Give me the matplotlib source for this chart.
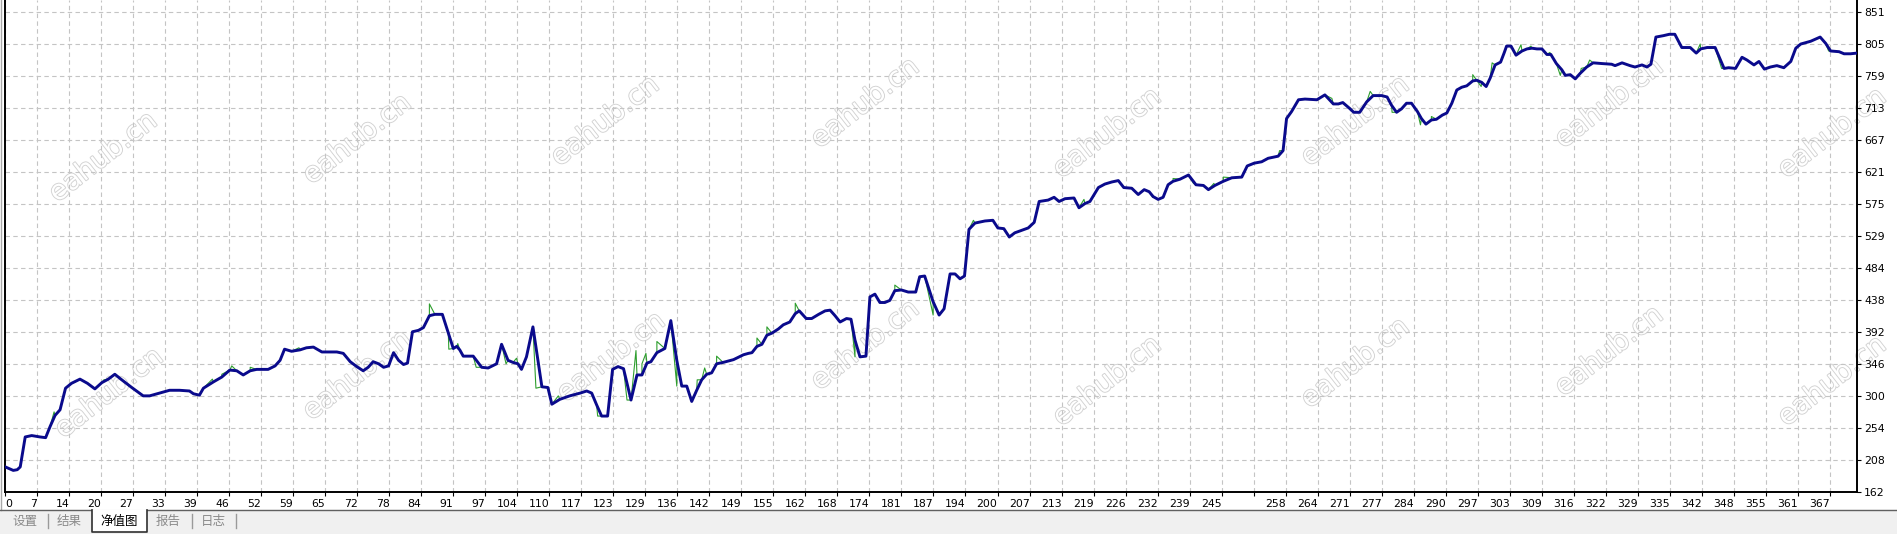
import numpy as np
import matplotlib
matplotlib.use("Agg")
import matplotlib.pyplot as plt
import matplotlib.patheffects as pe
from matplotlib.patches import Rectangle
from matplotlib.lines import Line2D

# balance curve (trade number -> balance)
bal_x = [0, 1.6, 2.4, 3, 4, 5.3, 7, 8.1, 9, 10, 11, 12.1, 13.3, 15, 16.5, 18, 19.4, 20.7, 22, 23.4,
         25.4, 27.7, 29, 31, 33, 35, 37, 37.8, 39, 39.8, 41.8, 43.5, 45.1,
         46.5, 47.8, 49.2, 50.5, 52.8, 54.2, 55.2, 56.1, 57.5, 59.2, 60.5, 61.9, 63.6, 66.6, 67.9,
         69.3, 70.6, 71.9, 72.9, 73.9, 75, 76, 77, 78, 79, 80, 80.8, 81.8, 83, 84, 85.2, 86.3, 87.8,
         89, 90, 90.7, 91.3, 92,
         94, 95.7, 97, 98.7, 99.7, 101, 102, 103, 103.7, 104.7, 106, 107.8, 109, 109.8, 111.4, 113.4,
         115.5, 116.8, 117.8, 118.8, 119.8, 121, 122, 123.1, 124.2, 125.7, 126.9, 127.9, 128.9, 129.7,
         130.9, 132.5, 133.7, 134.9, 135.9, 136.9, 137.9,
         138.9, 139.9, 140.9, 141.9, 142.9, 144.2, 146.3, 148.3, 149.3, 150, 151, 152, 153, 154, 155.3,
         156.3, 157.6, 158.7, 159.5, 160.9, 162, 163.4, 164.7, 165.7, 166.7, 167.7, 169, 169.9, 170.7,
         171.7, 172.9, 173.7, 174.7, 175.7, 176.7, 177.7, 178.7, 180, 181.4, 182.9, 183.7, 184.7,
         186.4, 187.6, 188.6, 189.8, 190.8, 191.8, 192.7, 193.6, 194.8, 196.8, 198.4, 199.4, 200.6,
         201.7, 202.8, 205.5, 206.7, 207.7, 209.5, 210.7, 211.7, 212.9, 214.7, 215.7, 216.9, 217.9,
         219.6, 220.9, 222.3, 223.6, 224.7, 226.3, 227.6, 228.8, 229.8, 230.6,
         231.6, 232.6, 233.6, 234.6, 236, 237.7, 239.2, 240.7, 241.7, 243, 244.7, 246.4, 248.4, 249.5,
         250.9, 252.4, 253.7, 255.7, 256.7, 257.4, 258.4, 259.8, 261.1, 263.5, 265.1, 266.8, 267.8,
         268.7, 270, 270.9, 272.1, 273.5, 274.8, 276.5, 277.6,
         278.5, 279.5, 280.5, 281.5, 282.5, 283.7, 284.5, 285.4, 286.5, 287.5, 288.7, 289.6, 290.6,
         291.6, 292.6, 293.6, 294.8, 295.6, 296.6, 297.5, 298.3, 299.3, 300.4, 301.1, 301.6, 302.5,
         303.5, 304.7, 305.7, 306.7, 307.7, 308.7, 309.7, 310.5, 311.6, 312.7, 313.4, 314.4, 315.4,
         316.4, 317.7, 319, 320.7, 322.7,
         323.4, 324.8, 326.4, 327.4, 328.8, 329.8, 330.6, 331.6, 333.1, 334.3, 335.4, 336.8, 338.5,
         339.7, 340.6, 341.9, 343.5, 345.3, 346.2, 347.6, 348.9, 349.9, 351.3, 352.3, 353.4, 354.6,
         355.9, 357.3, 358.7, 359.7, 360.7, 362.7, 364.6, 365.7, 366.7, 368.4, 369.4, 370.7, 372]
bal_y = [198, 193, 194, 198, 241, 243, 241, 240, 256, 272, 280, 311, 318, 324, 318, 310, 319, 324, 331, 323,
         312, 300, 300, 304, 308, 308, 307, 303, 301, 311, 320, 327, 337,
         336, 330, 336, 338, 338, 343, 351, 367, 364, 366, 369, 370, 363, 363, 361,
         349, 342, 336, 341, 349, 346, 341, 343, 362, 351, 345, 347, 392, 394, 398, 415, 417, 417,
         390, 368, 371, 366, 357,
         357, 341, 340, 346, 374, 351, 348, 346, 338, 356, 399, 313, 312, 288, 295, 300,
         304, 307, 304, 287, 271, 271, 338, 342, 339, 294, 330, 330, 347, 349,
         362, 368, 408, 351, 314, 314, 292,
         308, 323, 331, 333, 346, 348, 352, 359, 361, 362, 371, 374, 387, 390, 396,
         402, 406, 418, 422, 411, 411, 417, 422, 423, 415, 406, 411, 410, 380,
         356, 357, 442, 446, 434, 434, 437, 451, 452, 449, 449, 471, 472,
         435, 416, 425, 475, 475, 468, 472, 539, 548, 551, 552, 541, 540,
         528, 534, 541, 549, 579, 581, 585, 579, 583, 584, 570, 576, 579,
         599, 604, 607, 609, 599, 598, 589, 596, 593, 586,
         582, 585, 603, 608, 611, 617, 603, 602, 596, 602, 608, 613, 614, 630,
         634, 636, 641, 644, 652, 698, 708, 725, 726, 725, 732, 719, 719,
         721, 713, 707, 707, 722, 731, 731, 729,
         717, 707, 712, 720, 720, 708, 698, 690, 696, 697, 703, 706, 720,
         739, 743, 745, 752, 753, 750, 744, 756, 775, 779, 792, 802, 802,
         789, 795, 798, 799, 798, 798, 790, 790, 777, 768, 760, 761, 755,
         763, 772, 778, 777, 776,
         774, 778, 774, 772, 775, 772, 776, 815, 817, 819, 819, 800, 800,
         792, 798, 800, 800, 770, 771, 770, 786, 782, 775, 780, 769, 772,
         774, 771, 780, 799, 805, 809, 815, 806, 795, 794, 791, 791, 792]

# equity points where the green curve leaves the balance curve
eq_x = [9.8, 14, 19.8, 41.6, 43.5, 45.5, 49.2, 59, 85.2, 89.1, 90.9,
        94.6, 100.6, 102.7, 106.6, 111.1, 119, 124.9, 126.7, 127.9, 128.7, 130.9, 134.9, 139,
        140.5, 142.9, 151, 153, 158.7, 170.7, 178.7,
        186.4, 194.5, 216.7, 230.5, 234.6, 238.7, 242.8, 244.7, 256, 266.5, 274.2,
        278.6, 284.3, 286.5, 294.8, 296.5, 298.7, 304.5, 306.5, 310.3, 312.4, 316.6, 318.3,
        340.5, 344.8, 366.3]
eq_y = [277, 320, 323, 324, 331, 343, 341, 369, 432, 367, 375,
        341, 346, 354, 311, 300, 271, 294, 365, 346, 361, 378, 314, 323,
        340, 357, 383, 399, 433, 356, 459,
        416, 552, 582, 585, 612, 605, 605, 614, 652, 727, 737,
        707, 689, 701, 761, 744, 778, 804, 802, 793, 760, 770, 782,
        805, 770, 795]

x_labels = ["0", "7", "14", "20", "27", "33", "39", "46", "52", "59", "65", "72", "78", "84", "91",
            "97", "104", "110", "117", "123", "129", "136", "142", "149", "155", "162", "168", "174",
            "181", "187", "194", "200", "207", "213", "219", "226", "232", "239", "245", "", "258",
            "264", "271", "277", "284", "290", "297", "303", "309", "316", "322", "329", "335", "342",
            "348", "355", "361", "367"]
y_labels = ["162", "208", "254", "300", "346", "392", "438", "484", "529", "575", "621", "667",
            "713", "759", "805", "851"]
tabs = ["设置", "结果", "净值图", "报告", "日志"]

W, H = 1897, 534
fig = plt.figure(figsize=(W / 100, H / 100), dpi=100, facecolor="white")

# pixel helpers for the window chrome
def fx(px):
    return px / W

def fy(py):
    return 1 - py / H

ax = fig.add_axes([fx(5.3), fy(492), fx(1857 - 5.3), 492 / H])
ax.patch.set_visible(False)

x_step = 6.43
y_step = 45.93
ax.set_xlim(0, 372)
ax.set_ylim(162, 868.2)
ax.set_xticks(np.arange(len(x_labels)) * x_step)
ax.set_xticklabels(x_labels, fontsize=7.8, family="DejaVu Sans")
for i, lab in enumerate(ax.get_xticklabels()):
    lab.set_ha("left" if i == 0 else "right")
ax.yaxis.tick_right()
ax.set_yticks(162 + np.arange(len(y_labels)) * y_step)
ax.set_yticklabels(y_labels, fontsize=7.8, family="DejaVu Sans")
ax.tick_params(direction="out", length=3, width=0.8, pad=2, colors="black")
ax.grid(True, color="#c4c4c4", linestyle=(0, (4, 3)), linewidth=0.8)
ax.set_axisbelow(True)
for side in ["left", "right", "bottom"]:
    ax.spines[side].set_linewidth(1.4)
    ax.spines[side].set_color("black")
ax.spines["top"].set_visible(False)

# equity = balance vertices plus the points where equity departs
eq_pts = sorted(zip(bal_x + eq_x, bal_y + eq_y))
ax.plot([p[0] for p in eq_pts], [p[1] for p in eq_pts], color="#2e9e2e", lw=0.8, zorder=3)
ax.plot(bal_x, bal_y, color="#0a0a8c", lw=2.1, solid_joinstyle="round", zorder=4)

# watermark
marks = [(103, 157), (357, 139), (605, 121), (865, 103), (1107, 133), (1355, 121), (1609, 103), (1832, 133),
         (109, 393), (357, 375), (611, 357), (865, 345), (1107, 381), (1355, 363), (1609, 351), (1832, 381)]
for mx, my in marks:
    fig.text(fx(mx), fy(my), "eahub.cn", rotation=38, fontsize=20, color="white",
             ha="center", va="center", zorder=-1,
             path_effects=[pe.Stroke(linewidth=1.3, foreground="#d2d2d2"), pe.Normal()])

# window border and tab strip
fig.add_artist(Line2D([fx(1), fx(1)], [fy(510), 1], color="#a8a8a8", lw=1))
fig.add_artist(Rectangle((0, 0), 1, fy(510), transform=fig.transFigure, color="#f0f0f0", zorder=1))
fig.add_artist(Line2D([0, fx(91.7)], [fy(510), fy(510)], color="#606060", lw=1, zorder=2))
fig.add_artist(Line2D([fx(146.7), 1], [fy(510), fy(510)], color="#606060", lw=1, zorder=2))
fig.add_artist(Rectangle((fx(91.7), fy(531.7)), fx(146.7 - 91.7), (531.7 - 510) / H,
                         transform=fig.transFigure, facecolor="white", edgecolor="none", zorder=2))
fig.add_artist(Line2D([fx(91.7), fx(91.7), fx(146.7), fx(146.7)],
                      [fy(510), fy(531.7), fy(531.7), fy(510)], color="#303030", lw=1.2, zorder=3))
tab_x = [25, 69, 119, 168, 213]
for i, (t, px) in enumerate(zip(tabs, tab_x)):
    fig.text(fx(px), fy(521), t, fontsize=9, family=["Noto Sans CJK SC", "DejaVu Sans"],
             color="black" if i == 2 else "#8a8a8a", ha="center", va="center", zorder=4)
for px in [47.7, 191.7, 235.7]:
    fig.add_artist(Line2D([fx(px), fx(px)], [fy(514), fy(528)], color="#9a9a9a", lw=1, zorder=4))

fig.savefig("out.png", dpi=100)
